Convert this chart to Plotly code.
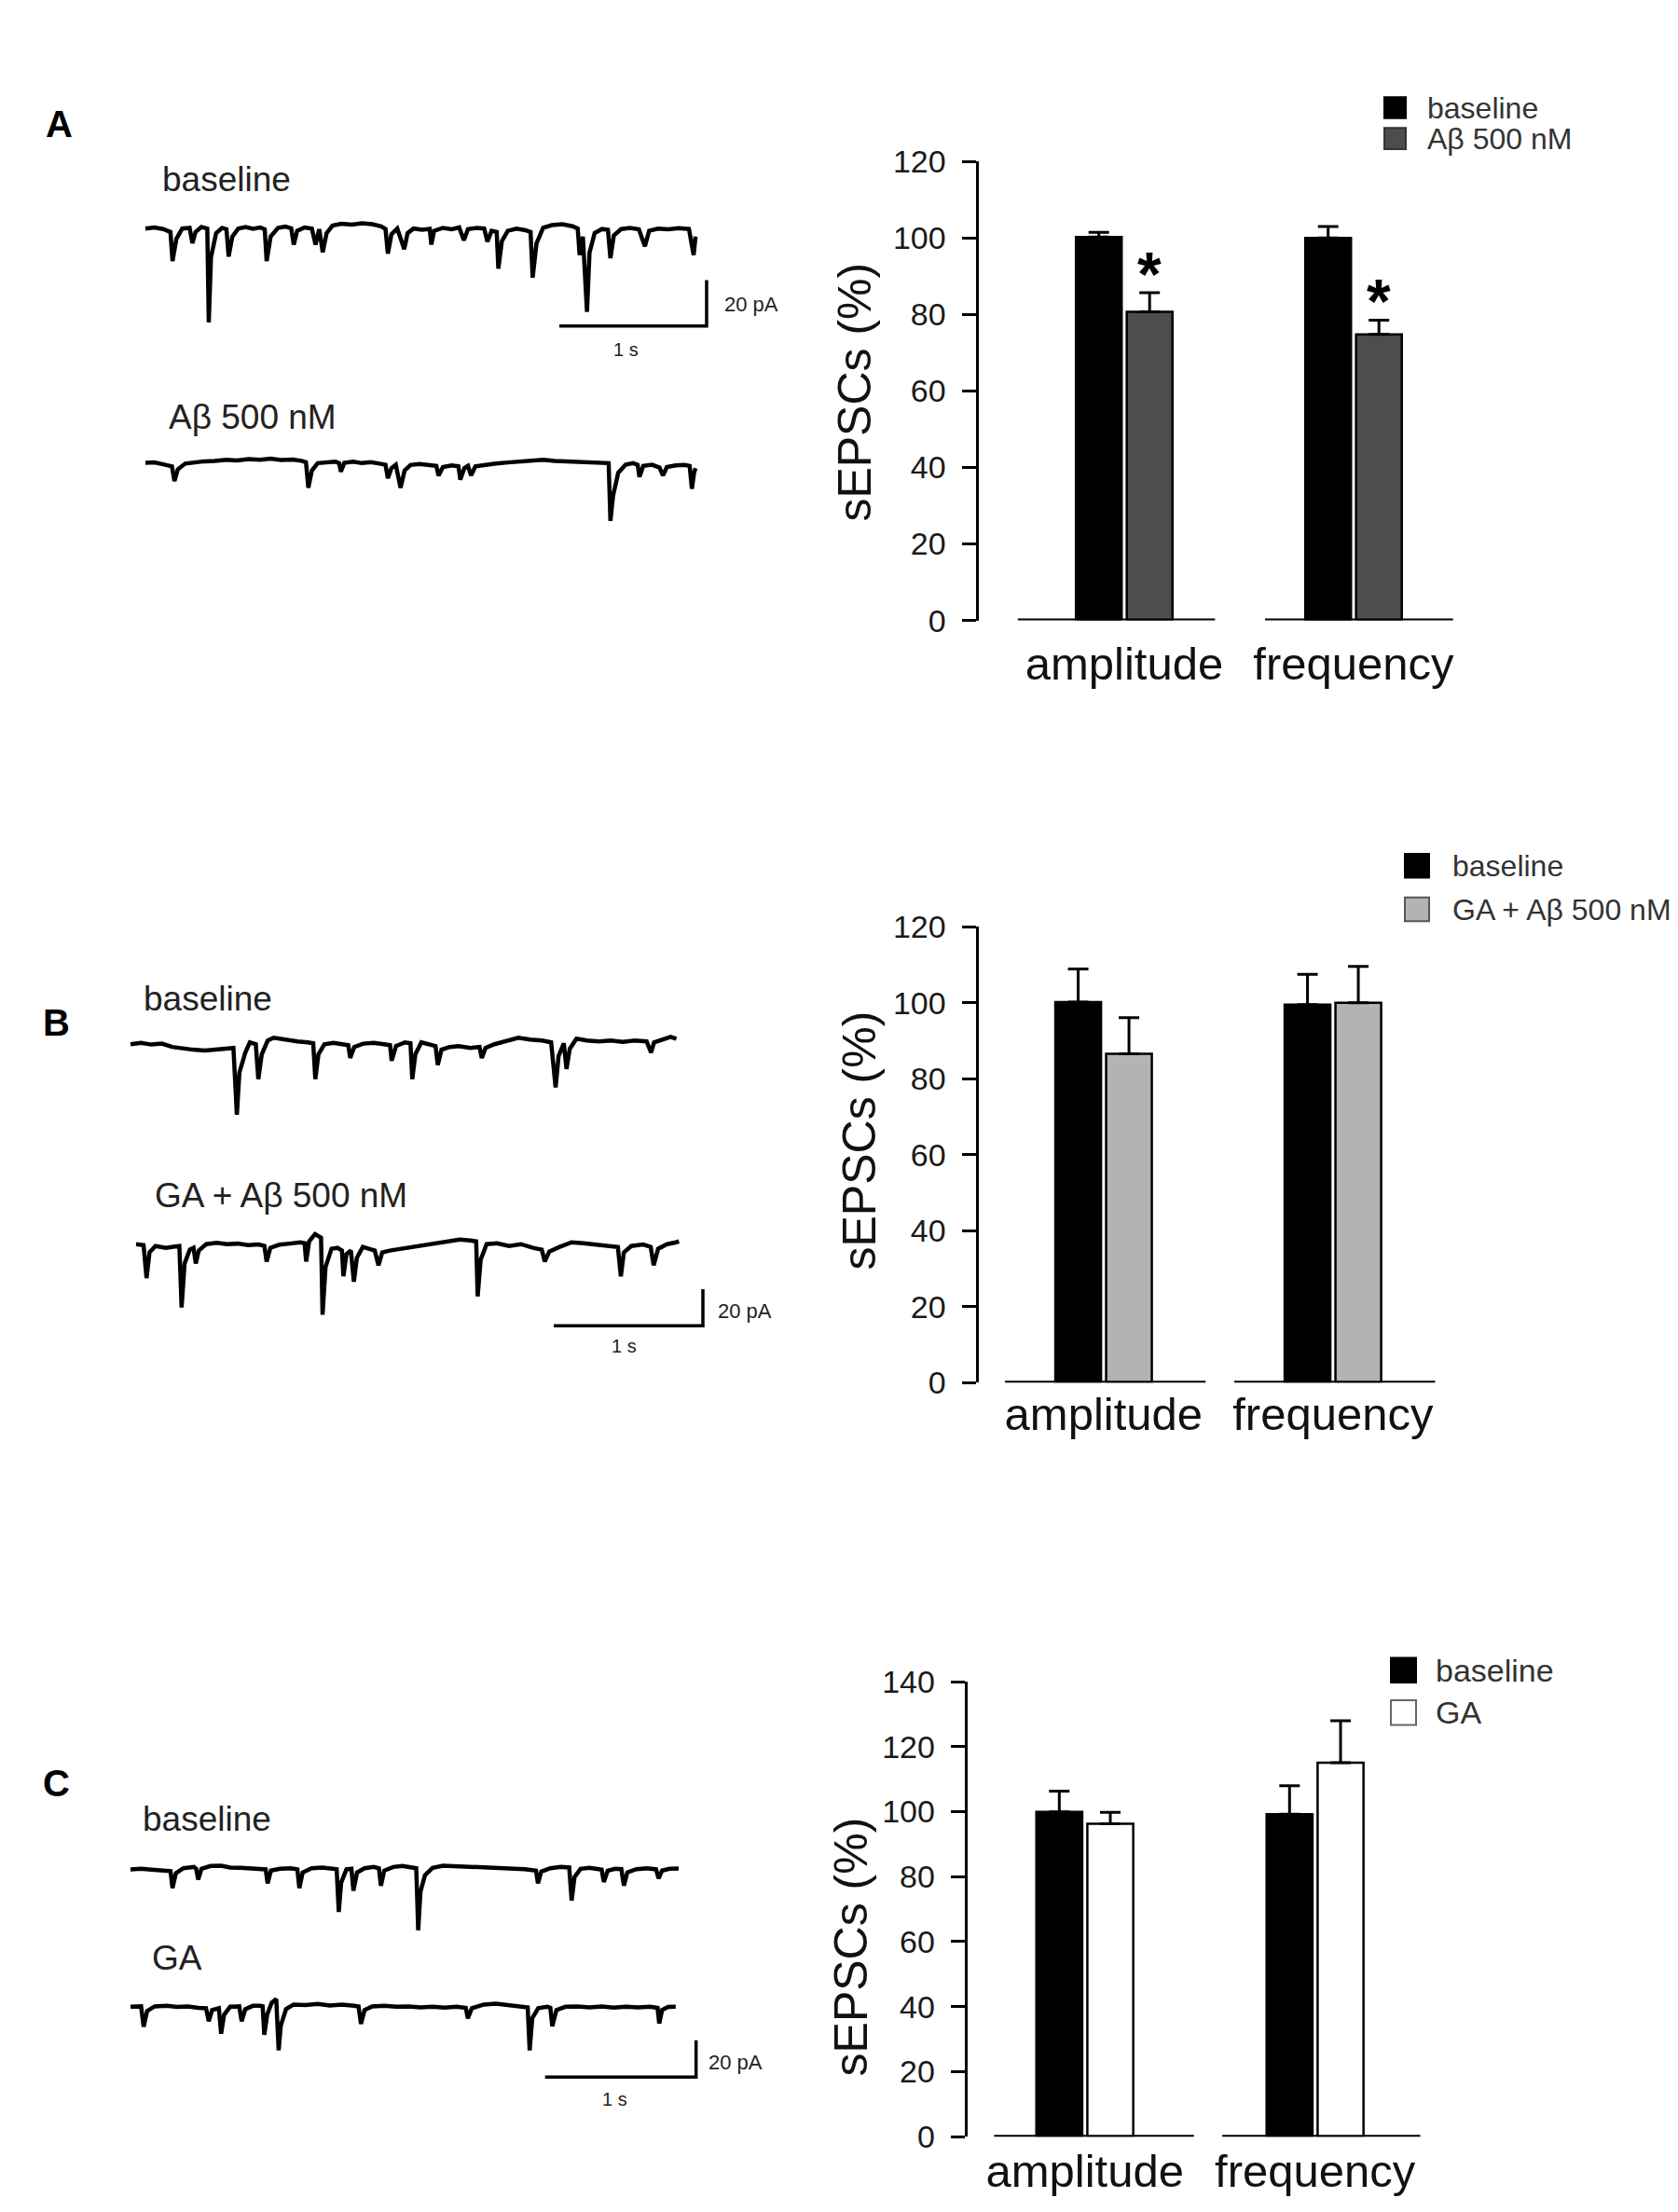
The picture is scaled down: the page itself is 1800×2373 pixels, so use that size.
import plotly.graph_objects as go

W, H = 1800, 2373
FONT = "Liberation Sans, Arial, sans-serif"

# ---------------- bar chart values (% of baseline) ----------------
cats = ["amplitude", "frequency"]

a_baseline = [100.3, 100.0]
a_baseline_err = [1.2, 3.0]
a_abeta = [80.7, 74.8]
a_abeta_err = [5.0, 3.7]

b_baseline = [100.2, 99.5]
b_baseline_err = [8.7, 8.0]
b_ga_abeta = [86.6, 100.0]
b_ga_abeta_err = [9.5, 9.6]

c_baseline = [99.9, 99.2]
c_baseline_err = [6.4, 8.8]
c_ga = [96.3, 115.1]
c_ga_err = [3.5, 12.9]

# ---------------- example recordings (time s, current pA) ----------------
a_base_rec = [
    (0.00, 0.5), (0.06, 1.0), (0.12, 0.3), (0.17, -1.0), (0.184, -13.7), (0.21, -4), (0.25, 0.5),
    (0.30, 0.8), (0.319, -5.9), (0.34, -1), (0.38, 1.2), (0.42, 0.5), (0.43, -40.4), (0.445, -12),
    (0.48, -1.5), (0.52, 0.8), (0.55, 0.2), (0.565, -11.7), (0.59, -3), (0.63, 0.5), (0.68, 1.2),
    (0.73, 0.4), (0.78, 1.0), (0.81, 0.2), (0.823, -13.7), (0.85, -3), (0.90, 0.8), (0.95, 1.4),
    (0.99, 0.6), (1.007, -6.5), (1.03, -0.5), (1.08, 1.0), (1.13, 0.5), (1.155, -6.5), (1.18, 0.2),
    (1.204, -9.8), (1.23, -1.5), (1.27, 1.8), (1.33, 2.6), (1.40, 2.2), (1.47, 2.8), (1.54, 2.4),
    (1.60, 1.5), (1.63, 0.3), (1.646, -10.4), (1.67, -2), (1.71, 0.5), (1.757, -8.5), (1.78, -1.5),
    (1.82, 0.5), (1.88, 0.0), (1.93, 0.4), (1.941, -6.5), (1.96, -0.5), (2.02, 0.8), (2.08, 0.2),
    (2.13, 1.0), (2.162, -4.6), (2.19, 0.3), (2.25, 0.8), (2.30, 0.5), (2.322, -5.2), (2.35, -0.5),
    (2.385, -1.0), (2.396, -17), (2.42, -5), (2.46, -0.5), (2.52, 0.5), (2.58, -0.2), (2.615, -1),
    (2.629, -20.9), (2.655, -6), (2.70, 0.8), (2.76, 2.0), (2.83, 2.4), (2.90, 1.5), (2.935, 0.5),
    (2.948, -11), (2.97, -3), (2.998, -35.9), (3.015, -10), (3.05, -1.5), (3.10, 0.3), (3.14, 0.0),
    (3.157, -12.4), (3.18, -2.5), (3.23, 0.3), (3.29, 0.8), (3.35, 0.2), (3.391, -7.2), (3.42, -0.5),
    (3.48, 0.5), (3.55, 0.2), (3.62, 0.7), (3.69, 0.3), (3.722, -11), (3.735, -3),
]
a_abeta_rec = [
    (0.00, 0.3), (0.06, 0.5), (0.12, -0.3), (0.18, -1.2), (0.197, -7.6), (0.22, -2.5), (0.27, 0),
    (0.33, 0.5), (0.40, 1.0), (0.47, 1.2), (0.55, 1.7), (0.62, 1.4), (0.70, 2.0), (0.78, 1.7),
    (0.85, 2.2), (0.92, 1.6), (1.00, 1.8), (1.06, 1.2), (1.09, 0.6), (1.106, -10.5), (1.13, -3),
    (1.17, 0.2), (1.23, 0.6), (1.29, 0.8), (1.315, 0.2), (1.327, -3.5), (1.35, 0.3), (1.41, 0.8),
    (1.47, 0.2), (1.53, 0.6), (1.59, 0.0), (1.63, -0.5), (1.646, -6.4), (1.67, -2), (1.70, -0.5),
    (1.732, -10.5), (1.76, -3), (1.80, -0.6), (1.86, -0.2), (1.93, -0.8), (1.975, -1), (1.99, -5.2),
    (2.02, -1.5), (2.08, -0.8), (2.125, -1.2), (2.138, -7), (2.165, -2), (2.19, -1), (2.211, -5.2),
    (2.24, -1.2), (2.30, -0.5), (2.38, 0.0), (2.46, 0.5), (2.54, 0.8), (2.62, 1.2), (2.70, 1.7),
    (2.78, 1.2), (2.86, 1.0), (2.94, 0.8), (3.02, 0.6), (3.10, 0.3), (3.145, 0.2), (3.157, -25),
    (3.175, -14), (3.21, -4), (3.26, -0.5), (3.31, 0.2), (3.342, -0.5), (3.354, -5.8), (3.38, -1),
    (3.44, -0.5), (3.49, -1.7), (3.514, -5.2), (3.54, -1.5), (3.60, -0.8), (3.66, -0.6), (3.695, -1),
    (3.71, -11), (3.725, -4), (3.735, -2),
]
b_base_rec = [
    (0.00, 0.5), (0.07, 1.2), (0.14, 0.3), (0.21, 0.8), (0.28, -1.0), (0.35, -2.0), (0.42, -2.5),
    (0.50, -3.0), (0.57, -2.5), (0.64, -2.0), (0.69, -1.5), (0.713, -38), (0.73, -15), (0.77, -4),
    (0.80, 1.5), (0.84, 0.5), (0.857, -18.5), (0.88, -5), (0.92, 2.5), (0.96, 4.0), (1.00, 3.5),
    (1.06, 2.5), (1.12, 2.0), (1.19, 1.5), (1.225, 1.0), (1.239, -18.5), (1.26, -5), (1.30, 0.5),
    (1.36, 1.2), (1.42, 0.5), (1.46, 0.0), (1.473, -7), (1.50, -1), (1.56, 0.8), (1.63, 1.2),
    (1.70, 0.5), (1.74, 0.0), (1.751, -8.5), (1.78, -0.5), (1.84, 1.5), (1.877, 1.0), (1.889, -18.5),
    (1.91, -5), (1.95, 1.5), (2.00, 0.5), (2.045, -0.5), (2.06, -10.8), (2.085, -2.5), (2.14, -1.0),
    (2.20, -0.5), (2.28, -1.5), (2.34, -1.0), (2.355, -7), (2.38, -1.5), (2.44, 0.5), (2.52, 2.5),
    (2.60, 4.0), (2.68, 3.0), (2.76, 2.5), (2.82, 1.5), (2.85, -23), (2.87, -6), (2.905, 1.0),
    (2.923, -13), (2.945, -2), (2.99, 3.5), (3.06, 2.5), (3.14, 2.0), (3.22, 2.5), (3.30, 1.8),
    (3.38, 2.5), (3.46, 2.0), (3.49, -4), (3.51, 1.5), (3.57, 3.0), (3.62, 4.5), (3.66, 3.5),
]
b_ga_abeta_rec = [
    (0.00, 0.5), (0.05, 0.0), (0.07, -18), (0.09, -4), (0.13, -0.5), (0.20, -1.5), (0.26, -0.8),
    (0.29, -0.5), (0.305, -34), (0.325, -10), (0.36, -2.5), (0.385, -1.5), (0.40, -10), (0.42, -3),
    (0.47, 0.5), (0.54, 1.2), (0.61, 0.5), (0.68, 0.8), (0.75, 0.0), (0.82, 0.3), (0.86, -0.5),
    (0.875, -9), (0.90, -1.5), (0.96, 0.2), (1.03, 0.8), (1.10, 1.5), (1.13, 1.0), (1.14, -9),
    (1.16, 2.0), (1.20, 6.0), (1.24, 4.0), (1.25, -38), (1.27, -12), (1.31, -2), (1.35, -1.5),
    (1.38, -3), (1.39, -17), (1.41, -5), (1.44, -3), (1.46, -20), (1.48, -7), (1.52, -1),
    (1.56, -2.0), (1.60, -3.0), (1.625, -11), (1.65, -4), (1.70, -3.0), (1.78, -2.0), (1.86, -1.0),
    (1.94, 0.5), (2.02, 1.5), (2.10, 2.5), (2.17, 3.0), (2.24, 2.5), (2.28, 2.0), (2.29, -28),
    (2.31, -8), (2.35, 0.5), (2.42, 1.0), (2.50, -0.5), (2.58, 0.5), (2.66, -1.5), (2.72, -2.5),
    (2.74, -9), (2.77, -3.5), (2.84, -1.0), (2.92, 1.5), (3.00, 1.0), (3.08, 0.3), (3.16, -0.5),
    (3.23, -1.0), (3.25, -17), (3.27, -4), (3.32, -0.5), (3.40, 0.3), (3.45, -1.0), (3.47, -11),
    (3.50, -2), (3.56, 0.5), (3.62, 1.5), (3.64, 2.0),
]
c_base_rec = [
    (0.00, 0.2), (0.07, 0.5), (0.14, 0.0), (0.21, -0.5), (0.265, -0.8), (0.278, -10), (0.30, -2),
    (0.35, 0.8), (0.42, 1.5), (0.435, 0.5), (0.448, -5.4), (0.47, 0.5), (0.53, 2.0), (0.60, 2.2),
    (0.66, 1.2), (0.73, 1.0), (0.80, 0.6), (0.86, 0.8), (0.895, 0.2), (0.908, -7.4), (0.93, -0.5),
    (0.99, 0.5), (1.06, 0.8), (1.105, 0.2), (1.118, -10), (1.14, -1.5), (1.20, 0.8), (1.27, 1.2),
    (1.33, 0.7), (1.365, 0.3), (1.379, -23), (1.395, -7), (1.43, 0.2), (1.463, 0.5), (1.476, -11.4),
    (1.50, -1.5), (1.55, 0.8), (1.61, 1.5), (1.645, 0.8), (1.658, -8.7), (1.68, -0.5), (1.74, 1.5),
    (1.80, 2.0), (1.86, 1.5), (1.892, 0.8), (1.905, -33), (1.92, -12), (1.95, -3), (2.00, 1.0),
    (2.07, 2.2), (2.14, 2.0), (2.21, 1.8), (2.29, 1.2), (2.37, 1.5), (2.45, 1.0), (2.53, 0.8),
    (2.61, 0.3), (2.685, -0.5), (2.698, -7.4), (2.72, -1), (2.78, 0.8), (2.85, 1.5), (2.905, 1.2),
    (2.921, -16.8), (2.94, -4), (2.98, 0.5), (3.04, 1.0), (3.10, 0.3), (3.12, 0), (3.134, -6.7),
    (3.16, -0.5), (3.21, 0.5), (3.25, 0.3), (3.267, -8.7), (3.29, -1.5), (3.35, 0.3), (3.42, 0.8),
    (3.48, 0.2), (3.497, -4.7), (3.52, -0.5), (3.57, 0.5), (3.63, 0.6),
]
c_ga_rec = [
    (0.00, 0.3), (0.07, 0.5), (0.087, -10.6), (0.11, -2), (0.16, 0.5), (0.24, 0.8), (0.31, 0.2),
    (0.38, 0.5), (0.45, -0.3), (0.50, -0.5), (0.518, -7.6), (0.54, -1.5), (0.585, -0.5), (0.60, -14.4),
    (0.62, -4), (0.66, 0.3), (0.72, 0.5), (0.736, -7.6), (0.76, -1), (0.81, 0.8), (0.86, 0.8),
    (0.875, 0.5), (0.886, -15), (0.905, -4), (0.935, 2.5), (0.965, 4.5), (0.981, -23.5), (0.995, -10),
    (1.03, -1), (1.08, 1.5), (1.16, 1.2), (1.24, 1.8), (1.32, 1.0), (1.40, 1.5), (1.48, 0.8),
    (1.51, 0.5), (1.526, -9), (1.55, -1.5), (1.60, 0.5), (1.68, 0.8), (1.76, 0.3), (1.84, 0.5),
    (1.92, 0.0), (2.00, 0.3), (2.08, -0.2), (2.16, 0.3), (2.22, -0.3), (2.234, -6), (2.26, -0.5),
    (2.34, 1.5), (2.42, 2.0), (2.50, 1.2), (2.58, 0.3), (2.63, 0), (2.643, -23.5), (2.66, -6),
    (2.70, -0.5), (2.76, 0.3), (2.78, -0.3), (2.793, -10.3), (2.82, -1.5), (2.88, 0.3), (2.96, 0.5),
    (3.04, 0), (3.12, 0.5), (3.20, -0.2), (3.28, 0.3), (3.36, 0.0), (3.44, 0.3), (3.49, -0.3),
    (3.501, -8.8), (3.52, -1.5), (3.56, 0.2), (3.61, 0.3),
]

# scale bars: 1 s horizontal, 20 pA vertical
a_bar_t = [2.81, 3.81, 3.81]
a_bar_pa = [-42, -42, -22]
b_bar_t = [2.80, 3.80, 3.80]
b_bar_pa = [-44, -44, -24]
c_bar_t = [2.745, 3.745, 3.745]
c_bar_pa = [-38, -38, -18]


def fx(px):
    return px / W


def fy(py):
    return 1 - py / H


fig = go.Figure()
layout = {}
shapes = []
annotations = []


def add_recording(n, rec, x0, pxs, ybase, ppa, t_rng, pa_rng, bar=None):
    # an invisible axis pair scaled to seconds and pA
    layout["xaxis%d" % n] = dict(domain=[fx(x0 + t_rng[0] * pxs), fx(x0 + t_rng[1] * pxs)],
                                 range=t_rng, visible=False, anchor="y%d" % n)
    layout["yaxis%d" % n] = dict(domain=[fy(ybase - pa_rng[0] * ppa), fy(ybase - pa_rng[1] * ppa)],
                                 range=pa_rng, visible=False, anchor="x%d" % n)
    fig.add_trace(go.Scatter(x=[p[0] for p in rec], y=[p[1] for p in rec], mode="lines",
                             line=dict(color="black", width=4.5), xaxis="x%d" % n, yaxis="y%d" % n,
                             showlegend=False, hoverinfo="skip"))
    if bar is not None:
        fig.add_trace(go.Scatter(x=bar[0], y=bar[1], mode="lines",
                                 line=dict(color="black", width=3.5), xaxis="x%d" % n, yaxis="y%d" % n,
                                 showlegend=False, hoverinfo="skip"))


add_recording(1, a_base_rec, 148, 158, 223, 2.5, [-0.05, 4.0], [-45, 10], (a_bar_t, a_bar_pa))
add_recording(2, a_abeta_rec, 148, 158, 478, 2.5, [-0.05, 3.8], [-30, 8])
add_recording(3, b_base_rec, 132, 160, 1112, 2.0, [-0.05, 3.8], [-42, 10])
add_recording(4, b_ga_abeta_rec, 138, 160, 1330, 2.0, [-0.05, 3.85], [-48, 10], (b_bar_t, b_bar_pa))
add_recording(5, c_base_rec, 132, 162, 2011, 2.0, [-0.05, 3.8], [-36, 8])
add_recording(6, c_ga_rec, 132, 162, 2161, 2.0, [-0.05, 3.8], [-42, 8], (c_bar_t, c_bar_pa))

BARGAP = 0.557
BARGROUPGAP = 0.1
slot = (1 - BARGAP) / 2


def add_bars(n, base, base_err, treat, treat_err, treat_color, x_left, unit_px, x_rng,
             y_bottom, y_top, y_max, standoff, segments):
    layout["xaxis%d" % n] = dict(domain=[fx(x_left), fx(x_left + (x_rng[1] - x_rng[0]) * unit_px)],
                                 range=x_rng, type="category", anchor="y%d" % n, showline=False,
                                 ticks="", showgrid=False, zeroline=False, ticklabelstandoff=standoff,
                                 tickfont=dict(family=FONT, size=49, color="#111"))
    layout["yaxis%d" % n] = dict(domain=[fy(y_bottom), fy(y_top)], range=[0, y_max],
                                 anchor="x%d" % n, showline=True, linecolor="black", linewidth=3,
                                 ticks="outside", ticklen=15, tickwidth=3, tickcolor="black",
                                 tickvals=list(range(0, y_max + 1, 20)), showgrid=False,
                                 zeroline=False, ticklabelstandoff=10,
                                 tickfont=dict(family=FONT, size=34, color="#1a1a1a"))
    for vals, errs, col in ((base, base_err, "black"), (treat, treat_err, treat_color)):
        fig.add_trace(go.Bar(x=cats, y=vals, marker=dict(color=col, line=dict(color="black", width=2.5)),
                             error_y=dict(type="data", array=errs, arrayminus=[0] * len(errs),
                                          symmetric=False, thickness=3, width=11, color="black"),
                             xaxis="x%d" % n, yaxis="y%d" % n, showlegend=False, hoverinfo="skip"))
    # the category baseline is drawn as one short segment under each group
    for s0, s1 in segments:
        shapes.append(dict(type="line", xref="x%d" % n, yref="y%d" % n, x0=s0, x1=s1,
                           y0=0, y1=0, line=dict(color="black", width=4)))


add_bars(7, a_baseline, a_baseline_err, a_abeta, a_abeta_err, "#4d4d4d",
         1041.5, 246, [-0.636, 1.55], 649, 148.7, 120, 13,
         [(-0.464, 0.396), (0.614, 1.434)])
add_bars(8, b_baseline, b_baseline_err, b_ga_abeta, b_ga_abeta_err, "#b3b3b3",
         1041.5, 246, [-0.546, 1.55], 1480, 983, 120, 1,
         [(-0.43, 0.445), (0.57, 1.446)])
add_bars(9, c_baseline, c_baseline_err, c_ga, c_ga_err, "white",
         1029.7, 247, [-0.51, 1.55], 2302, 1806, 140, 4,
         [(-0.394, 0.474), (0.597, 1.457)])

# significance marks above the A-beta bars in panel A
for i in range(len(cats)):
    annotations.append(dict(xref="x7", yref="y7", x=i + slot / 2, y=a_abeta[i] + a_abeta_err[i] + 5,
                            text="<b>*</b>", showarrow=False, yanchor="middle",
                            font=dict(family=FONT, size=66, color="black")))


def text(x, y, s, size, anchor="left", bold=False, angle=0, color="black"):
    annotations.append(dict(xref="paper", yref="paper", x=fx(x), y=fy(y),
                            text="<b>%s</b>" % s if bold else s, showarrow=False,
                            xanchor=anchor, yanchor="middle", textangle=angle,
                            font=dict(family=FONT, size=size, color=color)))


# panel letters
text(55, 108, "A", 40, "center", bold=True)
text(52, 1087, "B", 40, "center", bold=True)
text(52, 1917, "C", 40, "center", bold=True)

# recording labels
text(164, 168, "baseline", 37, color="#222")
text(171, 427, "Aβ 500 nM", 37, color="#222")
text(144, 1061, "baseline", 37, color="#222")
text(156, 1276, "GA + Aβ 500 nM", 37, color="#222")
text(143, 1956, "baseline", 37, color="#222")
text(153, 2107, "GA", 37, color="#222")

# scale bar labels
text(767, 304, "20 pA", 22, color="#222")
text(663, 354, "1 s", 20, "center", color="#222")
text(760, 1402, "20 pA", 22, color="#222")
text(661, 1440, "1 s", 20, "center", color="#222")
text(750, 2221, "20 pA", 22, color="#222")
text(651, 2261, "1 s", 20, "center", color="#222")

# y-axis titles
text(909, 400, "sEPSCs (%)", 50, "center", angle=-90, color="#111")
text(914, 1216, "sEPSCs (%)", 50, "center", angle=-90, color="#111")
text(905, 2095, "sEPSCs (%)", 50, "center", angle=-90, color="#111")

# legends
legend_rows = [
    (1477, 90, 23, "black", "black", "baseline", 1521, 32),
    (1477, 123.6, 23, "#4d4d4d", "#333", "Aβ 500 nM", 1521, 32),
    (1499, 916.5, 26, "black", "black", "baseline", 1548, 32),
    (1499, 964, 26, "#b3b3b3", "#555", "GA + Aβ 500 nM", 1548, 32),
    (1484, 1793.5, 27, "black", "black", "baseline", 1530, 34),
    (1484, 1839.7, 27, "white", "#666", "GA", 1530, 34),
]
for sx, sy, size, fill, edge, label, tx, fs in legend_rows:
    shapes.append(dict(type="rect", xref="paper", yref="paper", x0=fx(sx), x1=fx(sx + size),
                       y0=fy(sy + size / 2), y1=fy(sy - size / 2), fillcolor=fill,
                       line=dict(color=edge, width=2)))
    text(tx, sy, label, fs, color="#333")

fig.update_layout(
    width=W, height=H, margin=dict(l=0, r=0, t=0, b=0),
    paper_bgcolor="white", plot_bgcolor="white",
    barmode="group", bargap=BARGAP, bargroupgap=BARGROUPGAP,
    font=dict(family=FONT, color="black"),
    shapes=shapes, annotations=annotations, showlegend=False,
    **layout
)

fig.write_html("out.html")
